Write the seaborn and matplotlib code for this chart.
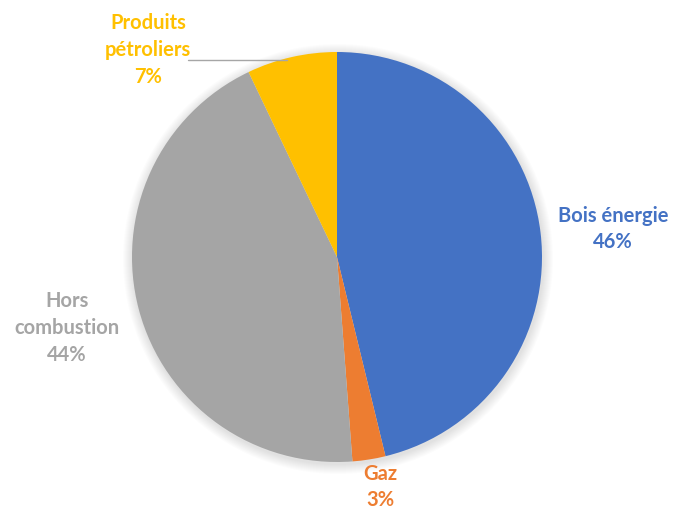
import matplotlib
matplotlib.use("Agg")
import matplotlib.pyplot as plt
from matplotlib.patches import Circle
import seaborn as sns

# Émissions par source
categories = ["Bois énergie", "Gaz", "Hors\ncombustion", "Produits\npétroliers"]
shares = [46.2, 2.6, 44.1, 7.1]
colors = ["#4472C4", "#ED7D31", "#A5A5A5", "#FFC000"]

sns.set_theme(style="white")
plt.rcParams["font.family"] = ["Lato", "DejaVu Sans"]

W, H = 675, 512
fig = plt.figure(figsize=(W / 100, H / 100), dpi=100)
ax = fig.add_axes([0, 0, 1, 1])

cx, cy, r = 337, H - 257, 205

# soft shadow around the disc
for i in range(10):
    ax.add_patch(Circle((cx + 1, cy - 2), r + 10 - i, color="black",
                        alpha=0.012, lw=0, zorder=0))

ax.pie(shares, colors=colors, startangle=90, counterclock=False,
       center=(cx, cy), radius=r, frame=True,
       wedgeprops=dict(linewidth=0))
ax.set_xlim(0, W)
ax.set_ylim(0, H)
ax.set_aspect("equal")
ax.axis("off")

label_pos = [(613, 229), (380, 487), (67, 328), (148, 50)]
for name, v, col, (x, y) in zip(categories, shares, colors, label_pos):
    ax.text(x, H - y, f"{name}\n{round(v)}%", color=col, fontsize=14.5,
            fontweight="bold", ha="center", va="center", linespacing=1.42)

# leader line for the small top slice
ax.plot([188, 287], [H - 60, H - 60], color="#A6A6A6", lw=1)

fig.savefig("out.png", dpi=100)
